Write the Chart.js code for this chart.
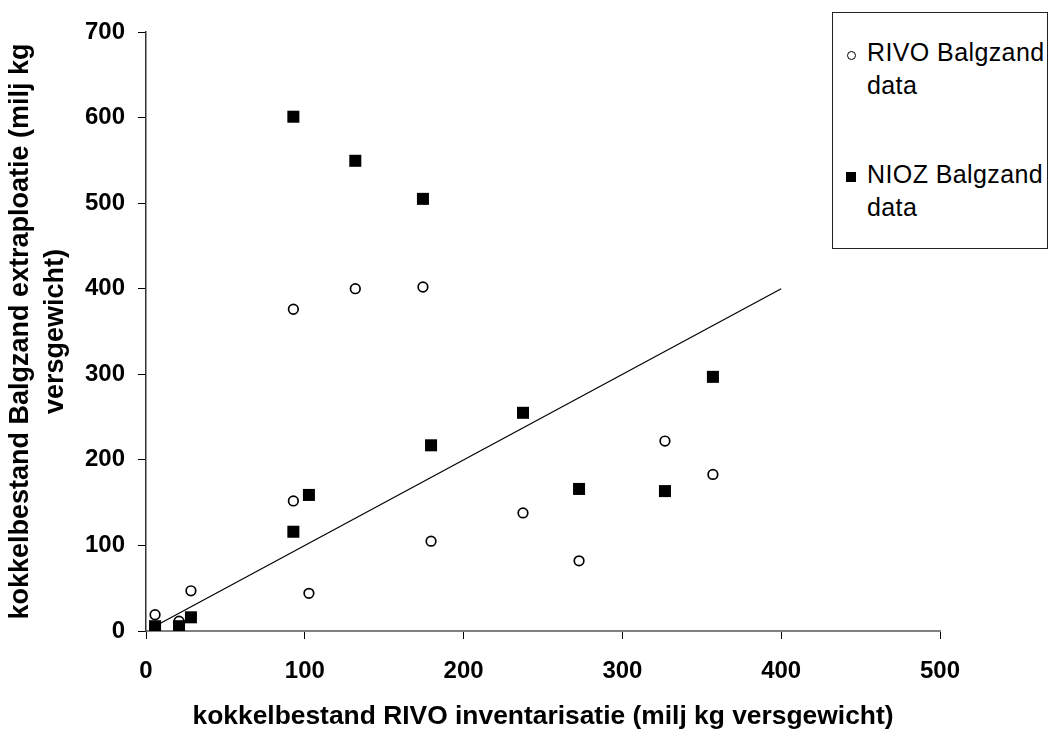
<!DOCTYPE html>
<html>
<head>
<meta charset="utf-8">
<title>kokkelbestand Balgzand</title>
<script src="https://cdn.jsdelivr.net/npm/chart.js"></script>
<style>
    body { margin: 0; background: #fff; font-family: "Liberation Sans", Arial, sans-serif; }
    #wrap { position: relative; width: 1052px; height: 729px; }
    #legend { position: absolute; left: 832px; top: 12px; width: 214px; height: 235px; border: 1px solid #222; background: #fff; }
    .lg { position: absolute; left: 34px; font-size: 25px; letter-spacing: 0.4px; line-height: 33px; color: #000; white-space: nowrap; }
    .mk { position: absolute; box-sizing: border-box; }
    .mk.circle { width: 9px; height: 9px; border: 1.5px solid #000; border-radius: 50%; left: 14px; top: 38px; }
    .mk.square { width: 10px; height: 10px; background: #000; left: 13px; top: 159px; }
</style>
</head>
<body>
<div id="wrap">
    <canvas id="chart" width="1052" height="729"></canvas>
    <div id="legend">
        <span class="mk circle"></span>
        <div class="lg" style="top:23px">RIVO Balgzand</div>
        <div class="lg" style="top:56px">data</div>
        <span class="mk square"></span>
        <div class="lg" style="top:145px">NIOZ Balgzand</div>
        <div class="lg" style="top:178px">data</div>
    </div>
</div>
<script>
// RIVO inventarisatie (x), gedeeld door beide reeksen
const rivoInventarisatie = [5.7, 20.8, 28.3, 92.8, 92.8, 102.6, 131.8, 174.4, 179.5, 237.4, 272.7, 326.8, 357];
// extrapolatie Balgzand per bron
const rivoBalgzand = [19, 11.5, 47, 376, 152, 44, 400, 402, 105, 138, 82, 222, 183];
const niozBalgzand = [5.6, 5.6, 16, 601, 116, 159, 549.5, 505, 217, 255, 166, 163.5, 297];
// 1:1 lijn
const lijnX = [5, 400];
const lijnY = [5, 400];

const xTicks = [0, 100, 200, 300, 400, 500];
const yTicks = [0, 100, 200, 300, 400, 500, 600, 700];

const toPoints = (xs, ys) => xs.map((x, i) => ({ x: x, y: ys[i] }));

const fam = '"Liberation Sans", Arial, sans-serif';
const tickFont = { family: fam, size: 24, weight: 'bold' };

new Chart(document.getElementById('chart').getContext('2d'), {
    type: 'scatter',
    data: {
        datasets: [
            {
                label: 'NIOZ Balgzand data',
                data: toPoints(rivoInventarisatie, niozBalgzand),
                pointStyle: 'rect',
                pointRadius: 8.5,
                backgroundColor: '#000',
                borderWidth: 0,
                order: 1
            },
            {
                label: 'RIVO Balgzand data',
                data: toPoints(rivoInventarisatie, rivoBalgzand),
                pointStyle: 'circle',
                pointRadius: 4.8,
                backgroundColor: '#fff',
                borderColor: '#000',
                borderWidth: 1.7,
                order: 2
            },
            {
                type: 'line',
                label: '1:1',
                data: toPoints(lijnX, lijnY),
                borderColor: '#000',
                borderWidth: 1.2,
                pointRadius: 0,
                fill: false,
                order: 0
            }
        ]
    },
    options: {
        responsive: false,
        animation: false,
        devicePixelRatio: 1,
        events: [],
        layout: { padding: { left: 0, top: 32, right: 112, bottom: 0 } },
        plugins: {
            legend: { display: false },
            tooltip: { enabled: false },
            title: { display: false }
        },
        scales: {
            x: {
                type: 'linear',
                min: 0,
                max: 500,
                afterBuildTicks: s => { s.ticks = xTicks.map(v => ({ value: v })); },
                afterFit: s => { s.height = 98; },
                grid: { drawOnChartArea: false, drawTicks: true, tickLength: 8, color: '#000', lineWidth: 1 },
                border: { display: true, color: '#808080', width: 2 },
                ticks: { color: '#000', font: tickFont, padding: 18, maxRotation: 0 },
                title: {
                    display: true,
                    text: 'kokkelbestand RIVO inventarisatie (milj kg versgewicht)',
                    color: '#000',
                    font: { family: fam, size: 26.4, weight: 'bold', lineHeight: 1.0 },
                    padding: { top: 0, bottom: -1 }
                }
            },
            y: {
                type: 'linear',
                min: 0,
                max: 700,
                afterBuildTicks: s => { s.ticks = yTicks.map(v => ({ value: v })); },
                afterFit: s => { s.width = 146; },
                grid: { drawOnChartArea: false, drawTicks: true, tickLength: 8, color: '#000', lineWidth: 1 },
                border: { display: true, color: '#333', width: 1.5 },
                ticks: { color: '#000', font: tickFont, padding: 13 },
                title: {
                    display: true,
                    text: ['kokkelbestand Balgzand extraploatie (milj kg', 'versgewicht)'],
                    color: '#000',
                    font: { family: fam, size: 27, weight: 'bold', lineHeight: 1.3 },
                    padding: { top: 3, bottom: 0 }
                }
            }
        }
    }
});
</script>
</body>
</html>
